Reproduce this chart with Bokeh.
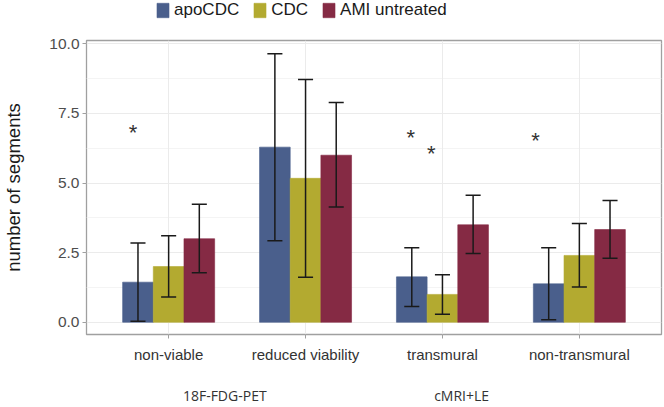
import numpy as np
from bokeh.plotting import figure
from bokeh.layouts import column
from bokeh.models import (Range1d, FixedTicker, LinearAxis, Legend, LegendItem,
                          PrintfTickFormatter, Grid)
from bokeh.core.properties import value
from bokeh.embed import file_html
from bokeh.resources import INLINE

# ---- data ----
categories = ["non-viable", "reduced viability", "transmural", "non-transmural"]
cat_pos = [1, 2, 3, 4]
series = ["apoCDC", "CDC", "AMI untreated"]
colors = ["#4A5F8C", "#B3AA30", "#852A44"]

apo_mean = [1.44, 6.29, 1.63, 1.38]
apo_lo = [0.04, 2.93, 0.57, 0.09]
apo_hi = [2.85, 9.64, 2.68, 2.68]

cdc_mean = [2.00, 5.17, 1.00, 2.40]
cdc_lo = [0.91, 1.62, 0.29, 1.27]
cdc_hi = [3.11, 8.72, 1.71, 3.55]

ami_mean = [3.00, 6.00, 3.50, 3.33]
ami_lo = [1.78, 4.14, 2.47, 2.30]
ami_hi = [4.24, 7.89, 4.56, 4.37]

star_x = [0.74, 2.768, 2.918, 3.68]
star_y = [6.80, 6.62, 6.05, 6.53]

group_labels = ["18F-FDG-PET", "cMRI+LE"]
group_pos = [1.41, 3.14]

y_ticks = [0, 2.5, 5, 7.5, 10]
y_minor = [1.25, 3.75, 6.25, 8.75]

bar_w = 0.224
offsets = [-bar_w, 0.0, bar_w]
cap_half = 0.055

FONT = "Liberation Sans"

# ---- main plot ----
p = figure(width=664, height=377, output_backend="svg", toolbar_location=None,
           title=None,
           x_range=Range1d(0.4, 4.6), y_range=Range1d(-0.44, 10.12),
           x_axis_type=None, y_axis_type=None,
           min_border_left=83, min_border_right=3, min_border_top=10,
           min_border_bottom=71)
p.outline_line_color = "#A0A0A0"
p.outline_line_width = 1.3
p.background_fill_color = "white"
p.border_fill_color = "white"

yaxis = LinearAxis(ticker=FixedTicker(ticks=y_ticks, minor_ticks=y_minor),
                   formatter=PrintfTickFormatter(format="%.1f"))
yaxis.axis_label = "number of segments"
yaxis.axis_label_text_font = FONT
yaxis.axis_label_text_font_style = "normal"
yaxis.axis_label_text_font_size = "18.5px"
yaxis.axis_label_text_color = "#1a1a1a"
yaxis.axis_label_standoff = 22
yaxis.major_label_text_font = FONT
yaxis.major_label_text_font_size = "15.5px"
yaxis.major_label_text_color = "#4D4D4D"
yaxis.major_label_standoff = 3
yaxis.axis_line_color = None
yaxis.major_tick_line_color = "#A0A0A0"
yaxis.major_tick_in = 0
yaxis.major_tick_out = 4
yaxis.minor_tick_line_color = None
p.add_layout(yaxis, "left")

xaxis = LinearAxis(ticker=FixedTicker(ticks=cat_pos))
xaxis.major_label_overrides = {c: l for c, l in zip(cat_pos, categories)}
xaxis.major_label_text_font = FONT
xaxis.major_label_text_font_size = "15px"
xaxis.major_label_text_color = "#333333"
xaxis.major_label_standoff = 7
xaxis.axis_line_color = None
xaxis.major_tick_line_color = "#A0A0A0"
xaxis.major_tick_in = 0
xaxis.major_tick_out = 4
xaxis.minor_tick_line_color = None
p.add_layout(xaxis, "below")

gaxis = LinearAxis(ticker=FixedTicker(ticks=group_pos))
gaxis.major_label_overrides = {c: l for c, l in zip(group_pos, group_labels)}
gaxis.major_label_text_font = "Open Sans"
gaxis.major_label_text_font_size = "14px"
gaxis.major_label_text_color = "#333333"
gaxis.major_label_standoff = 14
gaxis.axis_line_color = None
gaxis.major_tick_line_color = None
gaxis.minor_tick_line_color = None
p.add_layout(gaxis, "below")

ygrid = Grid(dimension=1, ticker=FixedTicker(ticks=y_ticks, minor_ticks=y_minor))
ygrid.grid_line_color = "#EBEBEB"
ygrid.grid_line_width = 1
ygrid.minor_grid_line_color = "#F4F4F4"
ygrid.minor_grid_line_width = 1
p.add_layout(ygrid)
xgrid = Grid(dimension=0, ticker=FixedTicker(ticks=cat_pos))
xgrid.grid_line_color = "#EBEBEB"
p.add_layout(xgrid)

means = [apo_mean, cdc_mean, ami_mean]
los = [apo_lo, cdc_lo, ami_lo]
his = [apo_hi, cdc_hi, ami_hi]

for name, col, off, m in zip(series, colors, offsets, means):
    xs = np.array(cat_pos, dtype=float) + off
    p.vbar(x=xs, top=m, bottom=0, width=bar_w, fill_color=col,
           line_color=col, line_alpha=0.6, line_width=1)

for off, lo, hi in zip(offsets, los, his):
    xs = np.array(cat_pos, dtype=float) + off
    p.segment(x0=xs, y0=lo, x1=xs, y1=hi, line_color="#1a1a1a", line_width=1.5)
    p.segment(x0=xs - cap_half, y0=hi, x1=xs + cap_half, y1=hi,
              line_color="#1a1a1a", line_width=1.5)
    p.segment(x0=xs - cap_half, y0=lo, x1=xs + cap_half, y1=lo,
              line_color="#1a1a1a", line_width=1.5)

p.text(x=star_x, y=star_y, text=["*"] * len(star_x), text_font=value(FONT),
       text_font_size="22px", text_color="#333333", text_align="center",
       text_baseline="middle")

# ---- legend strip on top ----
lf = figure(width=664, height=30, output_backend="svg", toolbar_location=None,
            title=None, x_range=Range1d(0, 1), y_range=Range1d(0, 1),
            x_axis_type=None, y_axis_type=None,
            min_border_left=0, min_border_right=0, min_border_top=0,
            min_border_bottom=0)
lf.outline_line_color = None
lf.xgrid.visible = False
lf.ygrid.visible = False
lf.border_fill_color = "white"
lf.background_fill_color = "white"

items = []
for name, col in zip(series, colors):
    # key-only renderer: zero-height bar kept below the strip's visible range
    r = lf.vbar(x=[0.5], top=[-1], bottom=[-1], width=0.0, fill_color=col,
                line_color=col, line_alpha=0.6, line_width=1)
    items.append(LegendItem(label=name, renderers=[r]))

legend = Legend(items=items, orientation="horizontal", location=(69, 10))
legend.glyph_width = 15
legend.glyph_height = 18
legend.label_text_font = FONT
legend.label_text_font_size = "17px"
legend.label_text_color = "#1a1a1a"
legend.label_standoff = 4
legend.spacing = 13
legend.padding = 0
legend.margin = 0
legend.border_line_alpha = 0
legend.background_fill_alpha = 0
lf.add_layout(legend, "center")

layout = column(lf, p, spacing=0)
open("out.html", "w").write(file_html(layout, INLINE))
